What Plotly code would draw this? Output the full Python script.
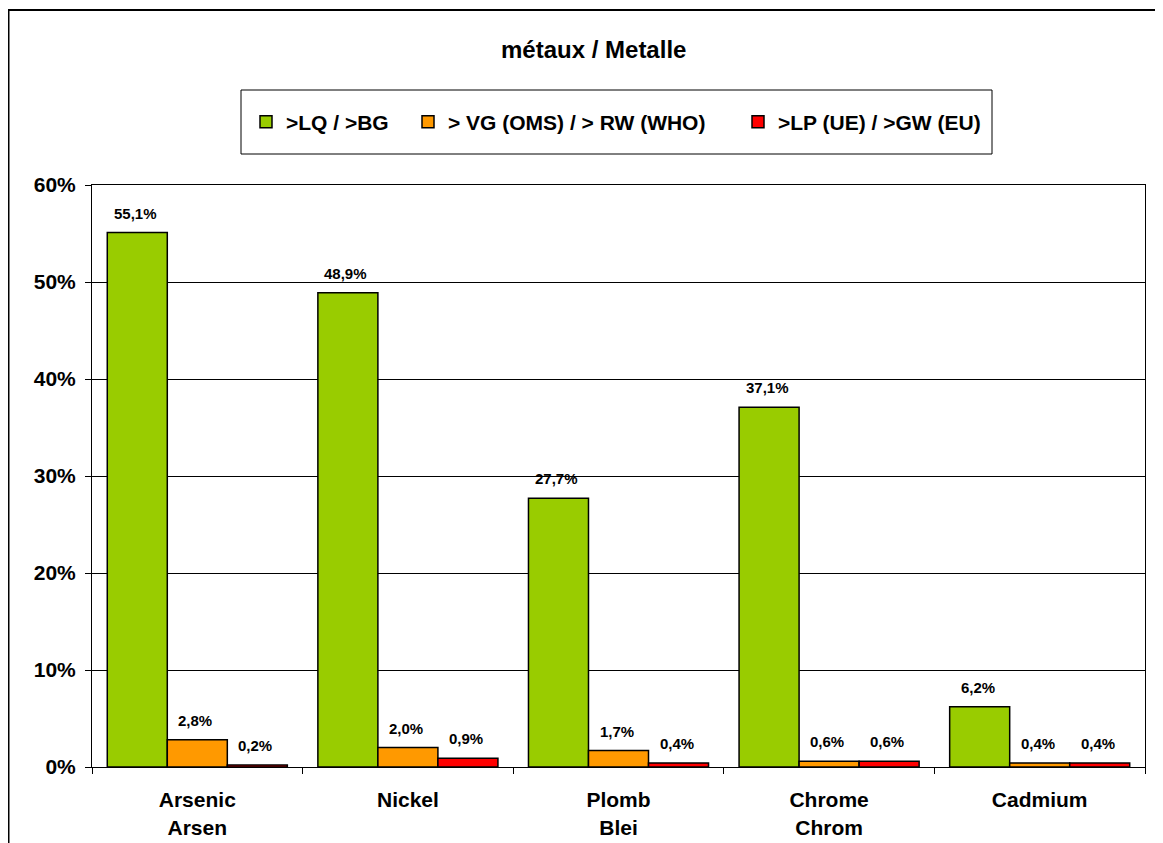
import plotly.graph_objects as go

categories = ["Arsenic<br>Arsen", "Nickel", "Plomb<br>Blei", "Chrome<br>Chrom", "Cadmium"]
series_names = [">LQ / >BG", "> VG (OMS) / > RW (WHO)", ">LP (UE) / >GW (EU)"]
lq_values = [55.1, 48.9, 27.7, 37.1, 6.2]
vg_values = [2.8, 2.0, 1.7, 0.6, 0.4]
lp_values = [0.2, 0.9, 0.4, 0.6, 0.4]
colors = ["#99CC00", "#FF9900", "#FF0000"]
y_ticks = [0, 10, 20, 30, 40, 50, 60]
y_ticklabels = ["0%", "10%", "20%", "30%", "40%", "50%", "60%"]

FONT = "Arial, Liberation Sans, sans-serif"
OFF = 8  # page body margin
W, H = 1163 - OFF, 843 - OFF
# plot area in page coordinates: x 92..1145, y 185..767
ML = 92 - OFF
MT = 185 - OFF
MR = W - (1145 - OFF)
MB = H - (767 - OFF)
PW = W - ML - MR
PH = H - MT - MB


def px_x(p):
    """page pixel x -> paper"""
    return (p - OFF - ML) / PW


def px_y(p):
    """page pixel y -> paper"""
    return (H - MB - (p - OFF)) / PH


fig = go.Figure()
all_values = [lq_values, vg_values, lp_values]
legend_ids = ["legend", "legend2", "legend3"]
for name, vals, col, lg in zip(series_names, all_values, colors, legend_ids):
    fig.add_trace(go.Bar(
        x=categories, y=vals, name=name, legend=lg,
        marker=dict(color=col, line=dict(color="#000000", width=1.5)),
        hoverinfo="skip",
    ))

bargap = 0.145
bar_w = PW / len(categories) * (1 - bargap) / 3

annotations = []
for i, vals in enumerate(all_values):
    for cat, v in zip(categories, vals):
        annotations.append(dict(
            x=cat, y=v, xref="x", yref="y",
            text=f"{v:.1f}".replace(".", ",") + "%",
            showarrow=False, xanchor="center", yanchor="bottom",
            xshift=(i - 1) * bar_w - 2, yshift=9,
            font=dict(family=FONT, size=15, color="#000000", weight=700),
        ))

annotations.append(dict(
    x=px_x(593), y=px_y(50), xref="paper", yref="paper",
    text="métaux / Metalle", showarrow=False,
    xanchor="center", yanchor="middle",
    font=dict(family=FONT, size=24, color="#000000", weight=700),
))

shapes = [
    dict(type="rect", xref="paper", yref="paper",
         x0=px_x(8.5), x1=px_x(1161.5), y0=px_y(900), y1=px_y(10),
         line=dict(color="#000000", width=2), fillcolor="rgba(0,0,0,0)", layer="below"),
    dict(type="rect", xref="paper", yref="paper",
         x0=px_x(241), x1=px_x(992), y0=px_y(154), y1=px_y(90),
         line=dict(color="#000000", width=1), fillcolor="rgba(0,0,0,0)"),
]

legend_font = dict(family=FONT, size=21, color="#000000", weight=700)
leg_common = dict(orientation="h", yanchor="middle", y=px_y(122), xanchor="left",
                  bgcolor="rgba(0,0,0,0)", borderwidth=0, font=legend_font)

fig.update_layout(
    width=W, height=H,
    margin=dict(l=ML, r=MR, t=MT, b=MB, autoexpand=False),
    paper_bgcolor="#FFFFFF", plot_bgcolor="#FFFFFF",
    barmode="group", bargap=bargap, bargroupgap=0,
    showlegend=True,
    legend=dict(x=px_x(246), **leg_common),
    legend2=dict(x=px_x(408), **leg_common),
    legend3=dict(x=px_x(738), **leg_common),
    xaxis=dict(
        type="category", tickson="boundaries", ticks="outside", ticklen=6,
        tickcolor="#000000", showline=True, linecolor="#000000", linewidth=1,
        mirror=True, showgrid=False,
        tickfont=dict(family=FONT, size=21, color="#000000", weight=700),
        ticklabelstandoff=14,
    ),
    yaxis=dict(
        range=[0, 60], tickvals=y_ticks, ticktext=y_ticklabels,
        ticks="outside", ticklen=6, tickcolor="#000000",
        showline=True, linecolor="#000000", linewidth=1, mirror=True,
        showgrid=True, gridcolor="#000000", gridwidth=1, zeroline=False,
        tickfont=dict(family=FONT, size=21, color="#000000", weight=700),
        ticklabelstandoff=5,
    ),
    annotations=annotations,
    shapes=shapes,
)

fig.write_html("out.html")
